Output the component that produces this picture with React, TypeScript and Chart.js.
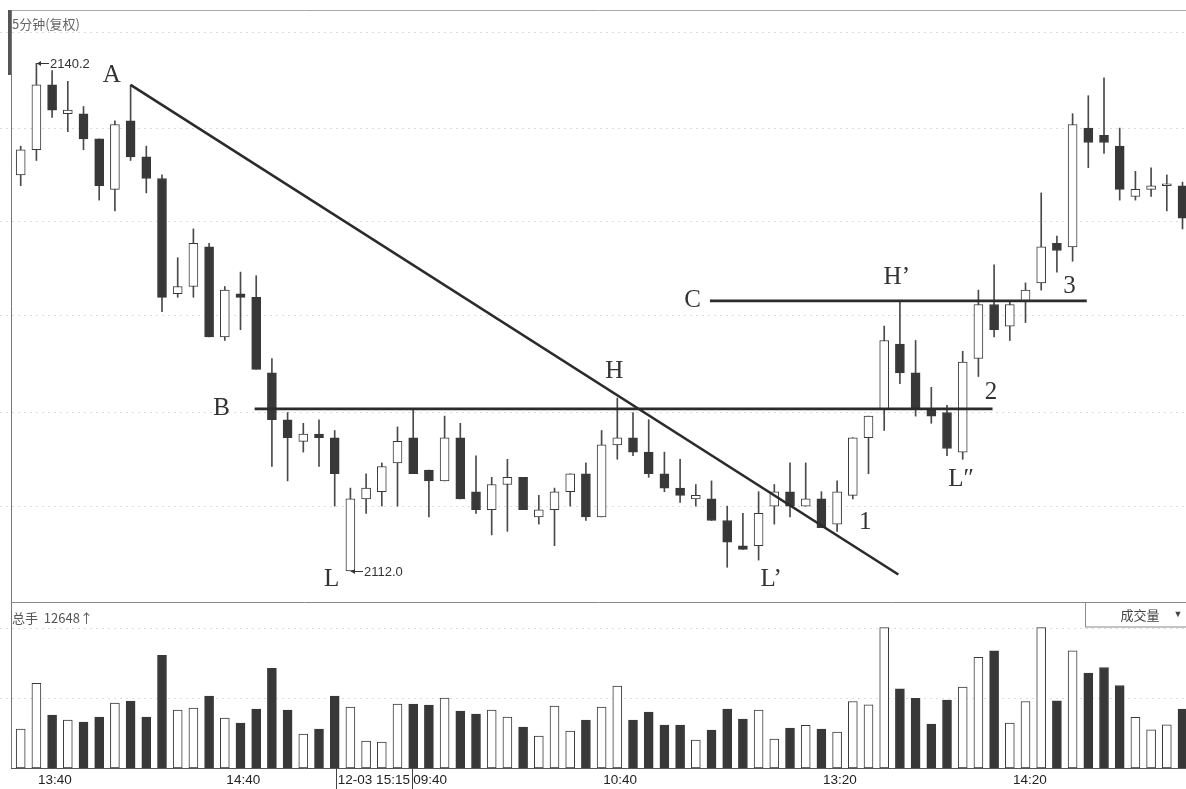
import React, { useEffect, useRef } from 'react';
import { Chart, registerables } from 'chart.js';

Chart.register(...registerables);

// ---- data: 5-minute candles (index 1..75) ----
const opens = [
  2134.0, 2135.4, 2139.0, 2137.4, 2137.4, 2136.0, 2133.2, 2137.0, 2135.0, 2133.8,
  2127.4, 2127.8, 2130.0, 2125.0, 2127.4, 2127.2, 2123.0, 2120.4, 2119.2, 2119.6,
  2119.4, 2112.0, 2116.0, 2116.4, 2118.0, 2119.4, 2117.6, 2117.0, 2119.4, 2116.4,
  2115.4, 2116.8, 2117.2, 2115.0, 2115.4, 2116.4, 2117.4, 2115.0, 2119.0, 2119.4,
  2118.6, 2117.4, 2116.6, 2116.0, 2116.0, 2114.8, 2113.4, 2113.4, 2115.6, 2116.4,
  2115.6, 2116.0, 2114.6, 2116.2, 2119.4, 2121.0, 2124.6, 2123.0, 2121.0, 2120.8,
  2118.6, 2123.8, 2126.8, 2125.6, 2127.0, 2128.0, 2130.2, 2130.0, 2136.6, 2136.2,
  2135.6, 2132.8, 2133.2, 2133.4, 2133.4,
];
const highs = [
  2135.6, 2140.2, 2139.8, 2139.2, 2137.8, 2136.0, 2137.0, 2139.0, 2135.6, 2134.0,
  2129.4, 2131.0, 2130.2, 2127.8, 2128.6, 2128.4, 2123.8, 2120.8, 2120.2, 2120.4,
  2119.8, 2116.6, 2117.4, 2118.0, 2120.0, 2121.0, 2117.6, 2120.6, 2120.2, 2118.4,
  2117.2, 2118.2, 2117.2, 2116.2, 2116.6, 2117.4, 2118.0, 2119.8, 2121.6, 2120.8,
  2120.4, 2118.6, 2118.2, 2116.8, 2117.0, 2115.6, 2115.2, 2116.4, 2116.8, 2118.0,
  2118.0, 2116.4, 2117.0, 2119.4, 2120.6, 2125.6, 2127.0, 2124.8, 2122.2, 2121.2,
  2124.2, 2127.6, 2129.0, 2127.0, 2128.0, 2133.0, 2130.6, 2137.4, 2138.4, 2139.4,
  2136.6, 2134.2, 2134.4, 2134.0, 2133.6,
];
const lows = [
  2133.4, 2134.8, 2137.2, 2136.4, 2135.4, 2132.6, 2132.0, 2134.8, 2133.0, 2126.4,
  2127.2, 2127.2, 2125.0, 2124.8, 2125.4, 2123.2, 2117.8, 2117.0, 2118.6, 2117.8,
  2115.6, 2112.0, 2115.2, 2115.6, 2115.6, 2117.4, 2115.0, 2117.0, 2116.0, 2115.2,
  2114.0, 2114.2, 2115.4, 2114.6, 2113.4, 2115.6, 2114.8, 2115.0, 2118.2, 2118.4,
  2117.2, 2116.4, 2115.8, 2115.6, 2114.8, 2112.2, 2113.2, 2112.6, 2114.6, 2115.0,
  2115.6, 2114.4, 2114.2, 2116.0, 2117.4, 2119.8, 2122.4, 2120.6, 2120.2, 2118.4,
  2118.2, 2122.8, 2125.0, 2124.8, 2125.8, 2127.6, 2128.6, 2129.2, 2134.4, 2135.2,
  2132.6, 2132.6, 2132.8, 2132.0, 2131.0,
];
const closes = [
  2135.4, 2139.0, 2137.6, 2137.6, 2136.0, 2133.4, 2136.8, 2135.0, 2133.8, 2127.2,
  2127.8, 2130.2, 2125.0, 2127.6, 2127.2, 2123.2, 2120.4, 2119.4, 2119.6, 2119.4,
  2117.4, 2116.0, 2116.6, 2117.8, 2119.2, 2117.4, 2117.0, 2119.4, 2116.0, 2115.4,
  2116.8, 2117.2, 2115.4, 2115.4, 2116.4, 2117.4, 2115.0, 2119.0, 2119.4, 2118.6,
  2117.4, 2116.6, 2116.2, 2116.2, 2114.8, 2113.6, 2113.2, 2115.2, 2116.4, 2115.6,
  2116.0, 2114.4, 2116.4, 2119.4, 2120.6, 2124.8, 2123.0, 2121.0, 2120.6, 2118.8,
  2123.6, 2126.8, 2125.4, 2126.8, 2127.6, 2130.0, 2129.8, 2136.8, 2135.8, 2135.8,
  2133.2, 2133.2, 2133.4, 2133.4, 2131.6,
];
const volumes = [
  8360, 18200, 11360, 10290, 9860, 10930, 13930, 14360, 10930, 24220,
  12430, 12860, 15430, 10720, 9640, 12640, 21430, 12430, 7290, 8360,
  15430, 13070, 5790, 5570, 13720, 13720, 13500, 15000, 12220, 11570,
  12430, 10930, 8790, 6860, 13290, 7930, 10290, 13070, 17570, 10290,
  12000, 9210, 9210, 6000, 8140, 12640, 10500, 12430, 6210, 8570,
  9150, 8360, 7710, 14290, 13570, 30150, 16990, 14940, 9430, 14570,
  17360, 23790, 25140, 9640, 14290, 30150, 14420, 25140, 20360, 21580,
  17720, 10870, 8210, 9280, 12648,
];

// ---- axis labels ----
const tickPositions = [2.1, 14.1, 21.2, 26.0, 38.1, 52.1, 64.2];
const tickLabels = ['13:40', '14:40', '12-03 15:15', '09:40', '10:40', '13:20', '14:20'];
const sessionBreaks = [21.1, 25.9];
const priceGrid = [2141.9, 2136.6, 2131.4, 2126.2, 2120.8, 2115.6];
const volumeGrid = [15000, 30000];

// ---- annotation lines (data coordinates) ----
const lineAX = [8, 56.9];
const lineAY = [2139.0, 2111.8];
const lineBX = [15.9, 62.9];
const lineBY = [2121.0, 2121.0];
const lineCX = [44.9, 68.9];
const lineCY = [2127.0, 2127.0];

// ---- annotation letters (data coordinates) ----
const markTexts = ['A', 'B', 'L', 'H', 'L\u2019', '1', 'H\u2019', '2', 'L\u2033', '3', 'C'];
const markX = [6.8, 13.8, 20.8, 38.8, 48.8, 54.8, 56.8, 62.8, 60.9, 67.8, 43.8];
const markY = [2139.5, 2121.0, 2111.5, 2123.1, 2111.5, 2114.7, 2128.3, 2121.9, 2117.1, 2127.8, 2127.0];

const INK = '#383838';
const X_MIN = -0.3185;
const X_MAX = 75.2225;
const P_MIN = 2110.217;
const P_MAX = 2143.717;
const V_MAX = 35433;

const SANS = '"Liberation Sans", Arial, sans-serif';
const CJK = '"Noto Sans CJK SC", "Liberation Sans", sans-serif';
const SERIF = '"Liberation Serif", "Times New Roman", serif';

const idx = closes.map((_, i) => i + 1);
const isUp = closes.map((c, i) => c >= opens[i]);

export default function App() {
  const pRef = useRef<HTMLCanvasElement>(null);
  const vRef = useRef<HTMLCanvasElement>(null);

  useEffect(() => {
    if (!pRef.current || !vRef.current) return;

    const pricePlugin = {
      id: 'priceDecor',
      beforeDatasetsDraw(chart: any) {
        const ctx = chart.ctx;
        const W = chart.width;
        const H = chart.height;
        ctx.save();
        ctx.strokeStyle = '#a8a8a8';
        ctx.lineWidth = 1;
        ctx.beginPath();
        ctx.moveTo(11, 10.5);
        ctx.lineTo(W, 10.5);
        ctx.stroke();
        ctx.strokeStyle = '#777';
        ctx.beginPath();
        ctx.moveTo(11.5, 10);
        ctx.lineTo(11.5, H);
        ctx.stroke();
        ctx.strokeStyle = '#888';
        ctx.beginPath();
        ctx.moveTo(11, H - 0.5);
        ctx.lineTo(W, H - 0.5);
        ctx.stroke();
        ctx.fillStyle = '#555';
        ctx.fillRect(8, 10, 3, 65);
        ctx.fillStyle = '#666';
        ctx.font = '13px ' + CJK;
        ctx.textAlign = 'left';
        ctx.textBaseline = 'middle';
        ctx.fillText('5分钟(复权)', 12, 24);
        ctx.restore();
      },
      afterDatasetsDraw(chart: any) {
        const ctx = chart.ctx;
        const xs = chart.scales.x;
        const ys = chart.scales.y;
        ctx.save();
        ctx.fillStyle = '#333';
        ctx.font = '25px ' + SERIF;
        ctx.textAlign = 'center';
        ctx.textBaseline = 'middle';
        markTexts.forEach((t, i) => {
          ctx.fillText(t, xs.getPixelForValue(markX[i]), ys.getPixelForValue(markY[i]));
        });

        const drawMarker = (i: number, v: number) => {
          const px = Math.round(xs.getPixelForValue(i + 1));
          const py = Math.round(ys.getPixelForValue(v)) + 0.5;
          ctx.strokeStyle = '#333';
          ctx.fillStyle = '#333';
          ctx.lineWidth = 1;
          ctx.beginPath();
          ctx.moveTo(px + 1, py);
          ctx.lineTo(px + 13, py);
          ctx.stroke();
          ctx.beginPath();
          ctx.moveTo(px + 1, py);
          ctx.lineTo(px + 5, py - 2.5);
          ctx.lineTo(px + 5, py + 2.5);
          ctx.closePath();
          ctx.fill();
          ctx.font = '13px ' + SANS;
          ctx.textAlign = 'left';
          ctx.textBaseline = 'middle';
          ctx.fillText(v.toFixed(1), px + 14, py + 1);
        };
        const hi = Math.max(...highs);
        const lo = Math.min(...lows);
        drawMarker(highs.indexOf(hi), hi);
        drawMarker(lows.indexOf(lo), lo);
        ctx.restore();
      },
    };

    const volumePlugin = {
      id: 'volumeDecor',
      afterDraw(chart: any) {
        const ctx = chart.ctx;
        const xs = chart.scales.x;
        const area = chart.chartArea;
        const W = chart.width;
        const H = chart.height;
        ctx.save();
        ctx.strokeStyle = '#777';
        ctx.lineWidth = 1;
        ctx.beginPath();
        ctx.moveTo(11.5, 0);
        ctx.lineTo(11.5, area.bottom);
        ctx.stroke();
        ctx.strokeStyle = '#555';
        ctx.beginPath();
        ctx.moveTo(11, Math.round(area.bottom) + 0.5);
        ctx.lineTo(W, Math.round(area.bottom) + 0.5);
        ctx.stroke();
        ctx.strokeStyle = '#444';
        sessionBreaks.forEach((b) => {
          const px = Math.round(xs.getPixelForValue(b)) + 0.5;
          ctx.beginPath();
          ctx.moveTo(px, area.bottom);
          ctx.lineTo(px, H);
          ctx.stroke();
        });
        ctx.fillStyle = '#555';
        ctx.font = '13px ' + CJK;
        ctx.textAlign = 'left';
        ctx.textBaseline = 'middle';
        ctx.fillText('总手  ' + volumes[volumes.length - 1] + '↑', 12, 15);
        ctx.fillStyle = '#fff';
        ctx.fillRect(1085, 0, W - 1085, 24);
        ctx.strokeStyle = '#8a8a8a';
        ctx.strokeRect(1085.5, -0.5, W - 1085, 24.5);
        ctx.fillStyle = '#444';
        ctx.font = '13px ' + CJK;
        ctx.textAlign = 'center';
        ctx.fillText('成交量', 1140, 12);
        ctx.font = '9px ' + SANS;
        ctx.fillText('▼', 1178, 12);
        ctx.restore();
      },
    };

    const lineDs = (xsArr: number[], ysArr: number[], label: string) => ({
      type: 'line' as const,
      label,
      data: xsArr.map((x, i) => ({ x, y: ysArr[i] })),
      borderColor: '#2b2b2b',
      borderWidth: 2.6,
      pointRadius: 0,
      fill: false,
      tension: 0,
      order: -1,
    });

    const priceChart = new Chart(pRef.current, {
      type: 'bar',
      data: {
        datasets: [
          lineDs(lineAX, lineAY, 'A'),
          lineDs(lineBX, lineBY, 'B'),
          lineDs(lineCX, lineCY, 'C'),
          {
            type: 'bar',
            label: 'body',
            data: idx.map((x, i) => ({ x, y: [opens[i], closes[i]] })),
            backgroundColor: isUp.map((u) => (u ? '#ffffff' : INK)),
            borderColor: INK,
            borderWidth: 1,
            borderSkipped: false,
            barThickness: 9,
            minBarLength: 2,
            grouped: false,
            order: 0,
          },
          {
            type: 'bar',
            label: 'wick',
            data: idx.map((x, i) => ({ x, y: [lows[i], highs[i]] })),
            backgroundColor: '#4a4a4a',
            borderWidth: 0,
            barThickness: 1,
            grouped: false,
            order: 1,
          },
        ] as any,
      },
      options: {
        animation: false,
        responsive: false,
        devicePixelRatio: 1,
        events: [],
        layout: { padding: 0 },
        plugins: { legend: { display: false }, tooltip: { enabled: false } },
        scales: {
          x: { type: 'linear', min: X_MIN, max: X_MAX, offset: false, bounds: 'data', display: false },
          y: {
            type: 'linear',
            min: P_MIN,
            max: P_MAX,
            offset: false,
            afterFit: (s: any) => {
              s.width = 0;
            },
            afterBuildTicks: (s: any) => {
              s.ticks = priceGrid.map((v) => ({ value: v }));
            },
            ticks: { display: false },
            grid: { color: '#dcdcdc', drawTicks: false, lineWidth: 1 },
            border: { display: false, dash: [2, 4] },
          },
        },
      } as any,
      plugins: [pricePlugin],
    });

    const volumeChart = new Chart(vRef.current, {
      type: 'bar',
      data: {
        datasets: [
          {
            label: 'volume',
            data: idx.map((x, i) => ({ x, y: volumes[i] })),
            backgroundColor: isUp.map((u) => (u ? '#ffffff' : INK)),
            borderColor: INK,
            borderWidth: 1,
            borderSkipped: false,
            barThickness: 9,
            grouped: false,
          },
        ] as any,
      },
      options: {
        animation: false,
        responsive: false,
        devicePixelRatio: 1,
        events: [],
        layout: { padding: 0 },
        plugins: { legend: { display: false }, tooltip: { enabled: false } },
        scales: {
          x: {
            type: 'linear',
            min: X_MIN,
            max: X_MAX,
            offset: false,
            bounds: 'data',
            afterFit: (s: any) => {
              s.height = 21;
              s.paddingLeft = 0;
              s.paddingRight = 0;
            },
            afterBuildTicks: (s: any) => {
              s.ticks = tickPositions.map((v) => ({ value: v }));
            },
            ticks: {
              autoSkip: false,
              maxRotation: 0,
              minRotation: 0,
              align: 'start',
              padding: 4,
              color: '#222',
              font: { family: SANS, size: 13.5 },
              callback: (_v: any, i: number) => tickLabels[i],
            },
            grid: { display: false, drawTicks: false, offset: false },
            border: { display: false },
          },
          y: {
            type: 'linear',
            min: 0,
            max: V_MAX,
            offset: false,
            afterFit: (s: any) => {
              s.width = 0;
            },
            afterBuildTicks: (s: any) => {
              s.ticks = volumeGrid.map((v) => ({ value: v }));
            },
            ticks: { display: false },
            grid: { color: '#dcdcdc', drawTicks: false, lineWidth: 1 },
            border: { display: false, dash: [2, 4] },
          },
        },
      } as any,
      plugins: [volumePlugin],
    });

    return () => {
      priceChart.destroy();
      volumeChart.destroy();
    };
  }, []);

  return (
    <div
      style={{
        position: 'fixed',
        left: 0,
        top: 0,
        width: 1186,
        height: 789,
        background: '#fff',
        overflow: 'hidden',
      }}
    >
      <canvas
        ref={pRef}
        width={1186}
        height={603}
        style={{ position: 'absolute', left: 0, top: 0, width: 1186, height: 603 }}
      />
      <canvas
        ref={vRef}
        width={1186}
        height={186}
        style={{ position: 'absolute', left: 0, top: 603, width: 1186, height: 186 }}
      />
    </div>
  );
}
